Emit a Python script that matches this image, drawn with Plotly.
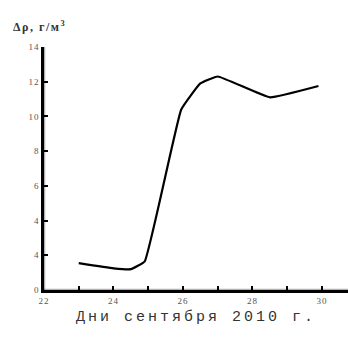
import plotly.graph_objects as go

# Density difference over September 2010 days
days = [23.0, 24.0, 24.5, 24.9, 25.95, 26.5, 27.0, 28.5, 29.9]
delta_rho = [1.55, 1.25, 1.2, 1.65, 10.4, 11.9, 12.3, 11.1, 11.75]

y_tick_vals = [0, 2, 4, 6, 8, 10, 12, 14]
y_tick_text = ["0", "4", "4", "6", "8", "10", "12", "14"]
x_tick_vals = [22, 23, 24, 25, 26, 27, 28, 29, 30]
x_tick_text = ["22", "", "24", "", "26", "", "28", "", "30"]

X_MIN, X_MAX = 22, 30.75
Y_MIN, Y_MAX = 0, 14

W, H = 348, 345
L, R, T, B = 44, 0, 47, 55

fig = go.Figure()
fig.add_trace(go.Scatter(
    x=days, y=delta_rho, mode="lines",
    line=dict(color="black", width=2.2, shape="spline", smoothing=0.3),
    hoverinfo="skip", showlegend=False,
))

tick_font = dict(family="Liberation Serif", size=9, color="#555555")

fig.update_layout(
    template="simple_white",
    width=W, height=H,
    margin=dict(l=L, r=R, t=T, b=B),
    showlegend=False,
    title=dict(
        text="<b>Δρ, г/м<sup>3</sup></b>",
        xref="container", yref="container",
        x=13 / W, xanchor="left", y=1 - 27 / H, yanchor="middle",
        font=dict(family="Liberation Serif", size=12, color="#333333"),
    ),
    xaxis=dict(
        range=[X_MIN, X_MAX], showgrid=False, zeroline=False,
        showline=True, linecolor="#000000", linewidth=2.5,
        tickmode="array", tickvals=x_tick_vals, ticktext=x_tick_text,
        ticks="inside", ticklen=4, tickwidth=1.5, tickcolor="#000000",
        tickfont=tick_font,
        title=dict(text="Дни сентября 2010 г.", standoff=6,
                   font=dict(family="Liberation Mono", size=15, color="#333333")),
    ),
    yaxis=dict(
        range=[Y_MIN, Y_MAX], showgrid=False, zeroline=False,
        showline=True, linecolor="#000000", linewidth=2.5,
        tickmode="array", tickvals=y_tick_vals, ticktext=y_tick_text,
        ticks="inside", ticklen=4, tickwidth=1.5, tickcolor="#000000",
        tickfont=tick_font,
    ),
)

# axis frame repeated as paper-referenced lines
frame = dict(color="#000000", width=2.5)
fig.add_shape(type="line", xref="paper", yref="paper", x0=0, x1=1, y0=0, y1=0, line=frame, layer="above")
fig.add_shape(type="line", xref="paper", yref="paper", x0=0, x1=0, y0=0, y1=1, line=frame, layer="above")

# widen letter spacing of the captions and tick labels
spacing_js = """
var gd = document.getElementById('{plot_id}');
gd.querySelectorAll('text.xtitle').forEach(function (t) { t.style.letterSpacing = '3px'; });
gd.querySelectorAll('text.gtitle').forEach(function (t) { t.style.letterSpacing = '1.5px'; });
gd.querySelectorAll('g.xtick text, g.ytick text').forEach(function (t) { t.style.letterSpacing = '1px'; });
"""

fig.write_html("out.html", post_script=spacing_js)
